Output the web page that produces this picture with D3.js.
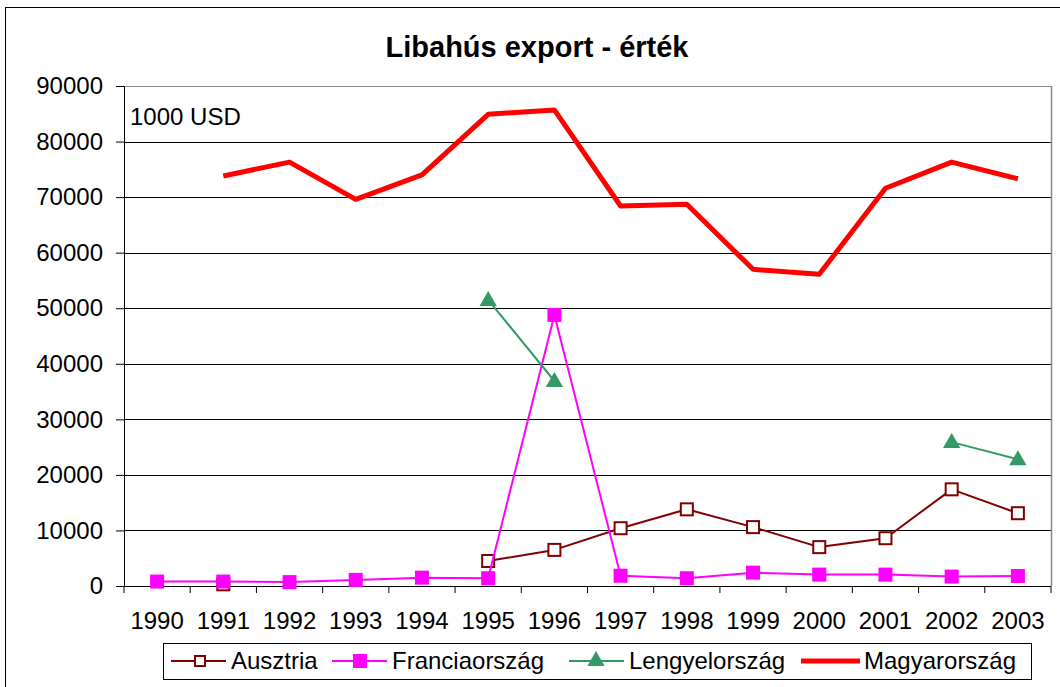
<!DOCTYPE html>
<html>
<head>
<meta charset="utf-8">
<script src="https://cdn.jsdelivr.net/npm/d3@7"></script>
<style>
  body { margin: 0; background: #fff; }
  svg { display: block; }
</style>
</head>
<body>
<div id="chart"></div>
<script>
const years = ["1990","1991","1992","1993","1994","1995","1996","1997","1998","1999","2000","2001","2002","2003"];
const ausztria = [null, 300, null, null, null, 4500, 6500, 10400, 13800, 10600, 7000, 8600, 17400, 13100];
const franciaorszag = [800, 800, 700, 1100, 1500, 1400, 48800, 1850, 1400, 2400, 2050, 2050, 1700, 1800];
const lengyelorszag = [null, null, null, null, null, 51500, 36900, null, null, null, null, null, 25900, 22800];
const magyarorszag = [null, 73800, 76300, 69600, 74000, 84900, 85700, 68400, 68700, 57000, 56100, 71600, 76300, 73300];
const yTicks = [0, 10000, 20000, 30000, 40000, 50000, 60000, 70000, 80000, 90000];

const series = [
  {name: "Ausztria", values: ausztria, color: "#800000", width: 2, marker: "hollowSquare"},
  {name: "Franciaország", values: franciaorszag, color: "#FF00FF", width: 2, marker: "square"},
  {name: "Lengyelország", values: lengyelorszag, color: "#339966", width: 2, marker: "triangle"},
  {name: "Magyarország", values: magyarorszag, color: "#FF0000", width: 5, marker: null}
];

const W = 1060, H = 687;
const plot = {left: 124, right: 1051, top: 86, bottom: 586};

const svg = d3.select("#chart").append("svg")
    .attr("width", W)
    .attr("height", H)
    .style("font-family", "'Liberation Sans', Arial, sans-serif");

// outer border
svg.append("rect")
    .attr("x", 5.5).attr("y", 7.5)
    .attr("width", W - 5).attr("height", H)
    .attr("fill", "none").attr("stroke", "#000").attr("stroke-width", 1);

svg.append("text")
    .attr("x", 537).attr("y", 57)
    .attr("text-anchor", "middle")
    .style("font-size", "29px").style("font-weight", "bold")
    .text("Libahús export - érték");

const x = d3.scaleBand().domain(years).range([plot.left, plot.right]).padding(0);
const y = d3.scaleLinear().domain([0, 90000]).range([plot.bottom, plot.top]);
const cx = d => x(d) + x.bandwidth() / 2;

// gridlines
svg.append("g").selectAll("line")
    .data(yTicks.filter(t => t > 0))
    .join("line")
    .attr("x1", plot.left).attr("x2", plot.right)
    .attr("y1", d => Math.round(y(d)) + 0.5).attr("y2", d => Math.round(y(d)) + 0.5)
    .attr("stroke", d => d === 90000 ? "#888" : "#000").attr("stroke-width", 1);

// right frame
svg.append("line")
    .attr("x1", plot.right + 0.5).attr("x2", plot.right + 0.5)
    .attr("y1", plot.top).attr("y2", plot.bottom)
    .attr("stroke", "#888").attr("stroke-width", 1.5);

// y axis
const yAxis = svg.append("g")
    .attr("transform", `translate(${plot.left},0)`)
    .call(d3.axisLeft(y).tickValues(yTicks).tickSize(8).tickPadding(13).tickFormat(d3.format("d")));
yAxis.selectAll("text").style("font-size", "24px").attr("fill", "#000");
yAxis.selectAll("line, path").attr("stroke", "#000");

// x axis
const xAxis = svg.append("g")
    .attr("transform", `translate(0,${plot.bottom})`)
    .call(d3.axisBottom(x).tickSize(0).tickPadding(26));
xAxis.select(".domain").attr("d", `M${plot.left},0.5H${plot.right}`).attr("stroke", "#000");
xAxis.selectAll("text").style("font-size", "24px").attr("fill", "#000");
xAxis.selectAll("line.sep")
    .data(years.concat(["end"]))
    .join("line")
    .attr("class", "sep")
    .attr("x1", (d, i) => plot.left + i * x.bandwidth())
    .attr("x2", (d, i) => plot.left + i * x.bandwidth())
    .attr("y1", 0).attr("y2", 7)
    .attr("stroke", "#000");

// lines
const line = d3.line()
    .defined(d => d.v != null)
    .x(d => cx(d.year))
    .y(d => y(d.v));

const triangle = d3.symbol().type(d3.symbolTriangle).size(130)();

series.forEach(s => {
  const pts = years.map((yr, i) => ({year: yr, v: s.values[i]}));
  svg.append("path")
      .datum(pts)
      .attr("fill", "none")
      .attr("stroke", s.color)
      .attr("stroke-width", s.width)
      .attr("stroke-linejoin", "round")
      .attr("d", line);

  const valid = pts.filter(d => d.v != null);
  const g = svg.append("g");
  if (s.marker === "square") {
    g.selectAll("rect").data(valid).join("rect")
        .attr("x", d => cx(d.year) - 7).attr("y", d => y(d.v) - 7)
        .attr("width", 14).attr("height", 14)
        .attr("fill", s.color);
  } else if (s.marker === "hollowSquare") {
    g.selectAll("rect").data(valid).join("rect")
        .attr("x", d => cx(d.year) - 6).attr("y", d => y(d.v) - 6)
        .attr("width", 12).attr("height", 12)
        .attr("fill", "#fff").attr("stroke", s.color).attr("stroke-width", 2);
  } else if (s.marker === "triangle") {
    g.selectAll("path").data(valid).join("path")
        .attr("transform", d => `translate(${cx(d.year)},${y(d.v) + 1})`)
        .attr("d", triangle)
        .attr("fill", s.color);
  }
});

// unit label
svg.append("text")
    .attr("x", 130).attr("y", 125)
    .style("font-size", "24px")
    .text("1000 USD");

// legend
const legend = svg.append("g");
legend.append("rect")
    .attr("x", 163.5).attr("y", 643.5)
    .attr("width", 868).attr("height", 36)
    .attr("fill", "#fff").attr("stroke", "#000");

const legendX = [171, 332, 569, 801];
series.forEach((s, i) => {
  const g = legend.append("g").attr("transform", `translate(${legendX[i]},661)`);
  g.append("line")
      .attr("x1", 0).attr("x2", s.marker ? 55 : 59)
      .attr("y1", 0).attr("y2", 0)
      .attr("stroke", s.color).attr("stroke-width", s.width);
  if (s.marker === "square") {
    g.append("rect").attr("x", 21).attr("y", -7).attr("width", 14).attr("height", 14).attr("fill", s.color);
  } else if (s.marker === "hollowSquare") {
    g.append("rect").attr("x", 24).attr("y", -5).attr("width", 10).attr("height", 10)
        .attr("fill", "#fff").attr("stroke", s.color).attr("stroke-width", 2);
  } else if (s.marker === "triangle") {
    g.append("path").attr("transform", "translate(27,0)").attr("d", triangle).attr("fill", s.color);
  }
  g.append("text")
      .attr("x", s.marker ? 60 : 63).attr("y", 8)
      .style("font-size", "24px")
      .text(s.name);
});
</script>
</body>
</html>
